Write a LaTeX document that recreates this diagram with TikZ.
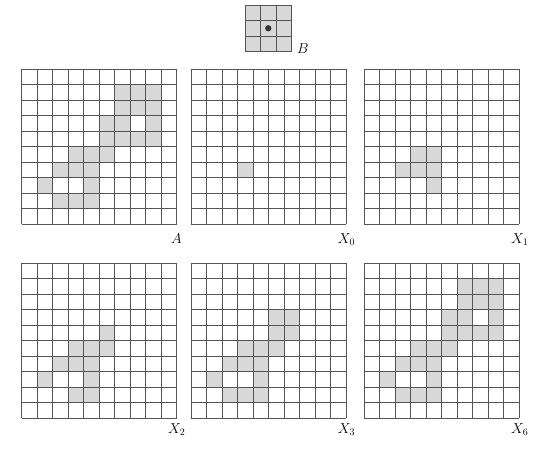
\documentclass[tikz,border=0pt]{standalone}
\definecolor{cellfill}{RGB}{216,216,216}
\definecolor{gridline}{RGB}{85,85,85}
\tikzset{
  gridrule/.style={draw=gridline, line width=0.7pt},
  lbl/.style={anchor=base west, inner sep=0pt, font=\fontsize{14}{16}\selectfont},
}
\newcommand\binimg[4]{% #1 x, #2 y, #3 cells r/c, #4 size
  \begin{scope}[shift={(#1,#2)}]
    \foreach \r/\c in {#3} { \fill[cellfill] (\c*15.5,\r*15.5) rectangle ++(15.5,15.5); }
    \foreach \i in {0,...,#4} {
      \draw[gridrule] (\i*15.5,0) -- (\i*15.5,#4*15.5);
      \draw[gridrule] (0,\i*15.5) -- (#4*15.5,\i*15.5);
    }
  \end{scope}}
\begin{document}
\begin{tikzpicture}[x=1pt,y=-1pt]
\fill[white] (0,0) rectangle (560,459);
\useasboundingbox (0,0) rectangle (560,459);
% structuring element B
\binimg{245}{5}{0/0,0/1,0/2,1/0,1/1,1/2,2/0,2/1,2/2}{3}
\fill[black!80] (268.25,28.25) circle (3.2);
\node[lbl] (labB) at (297,53.3) {$B$};
% top row
\binimg{21.7}{69.3}{1/6,1/7,1/8,2/6,2/7,2/8,3/5,3/6,3/8,4/5,4/6,4/7,4/8,5/3,5/4,5/5,6/2,6/3,6/4,7/1,7/4,8/2,8/3,8/4}{10}
\node[lbl] (labA) at (171,243) {$A$};
\binimg{191}{69.3}{6/3}{10}
\node[lbl] (labX0) at (337.7,243) {$X_0$};
\binimg{364.3}{69.3}{5/3,5/4,6/2,6/3,6/4,7/4}{10}
\node[lbl] (labX1) at (511,243) {$X_1$};
% bottom row
\binimg{21.7}{263.3}{4/5,5/3,5/4,5/5,6/2,6/3,6/4,7/1,7/4,8/3,8/4}{10}
\node[lbl] (labX2) at (168,433.3) {$X_2$};
\binimg{191}{263.3}{3/5,3/6,4/5,4/6,5/3,5/4,5/5,6/2,6/3,6/4,7/1,7/4,8/2,8/3,8/4}{10}
\node[lbl] (labX3) at (337.7,433.3) {$X_3$};
\binimg{364.3}{263.3}{1/6,1/7,1/8,2/6,2/7,2/8,3/5,3/6,3/8,4/5,4/6,4/7,4/8,5/3,5/4,5/5,6/2,6/3,6/4,7/1,7/4,8/2,8/3,8/4}{10}
\node[lbl] (labX6) at (511,433.3) {$X_6$};
\end{tikzpicture}
\end{document}
